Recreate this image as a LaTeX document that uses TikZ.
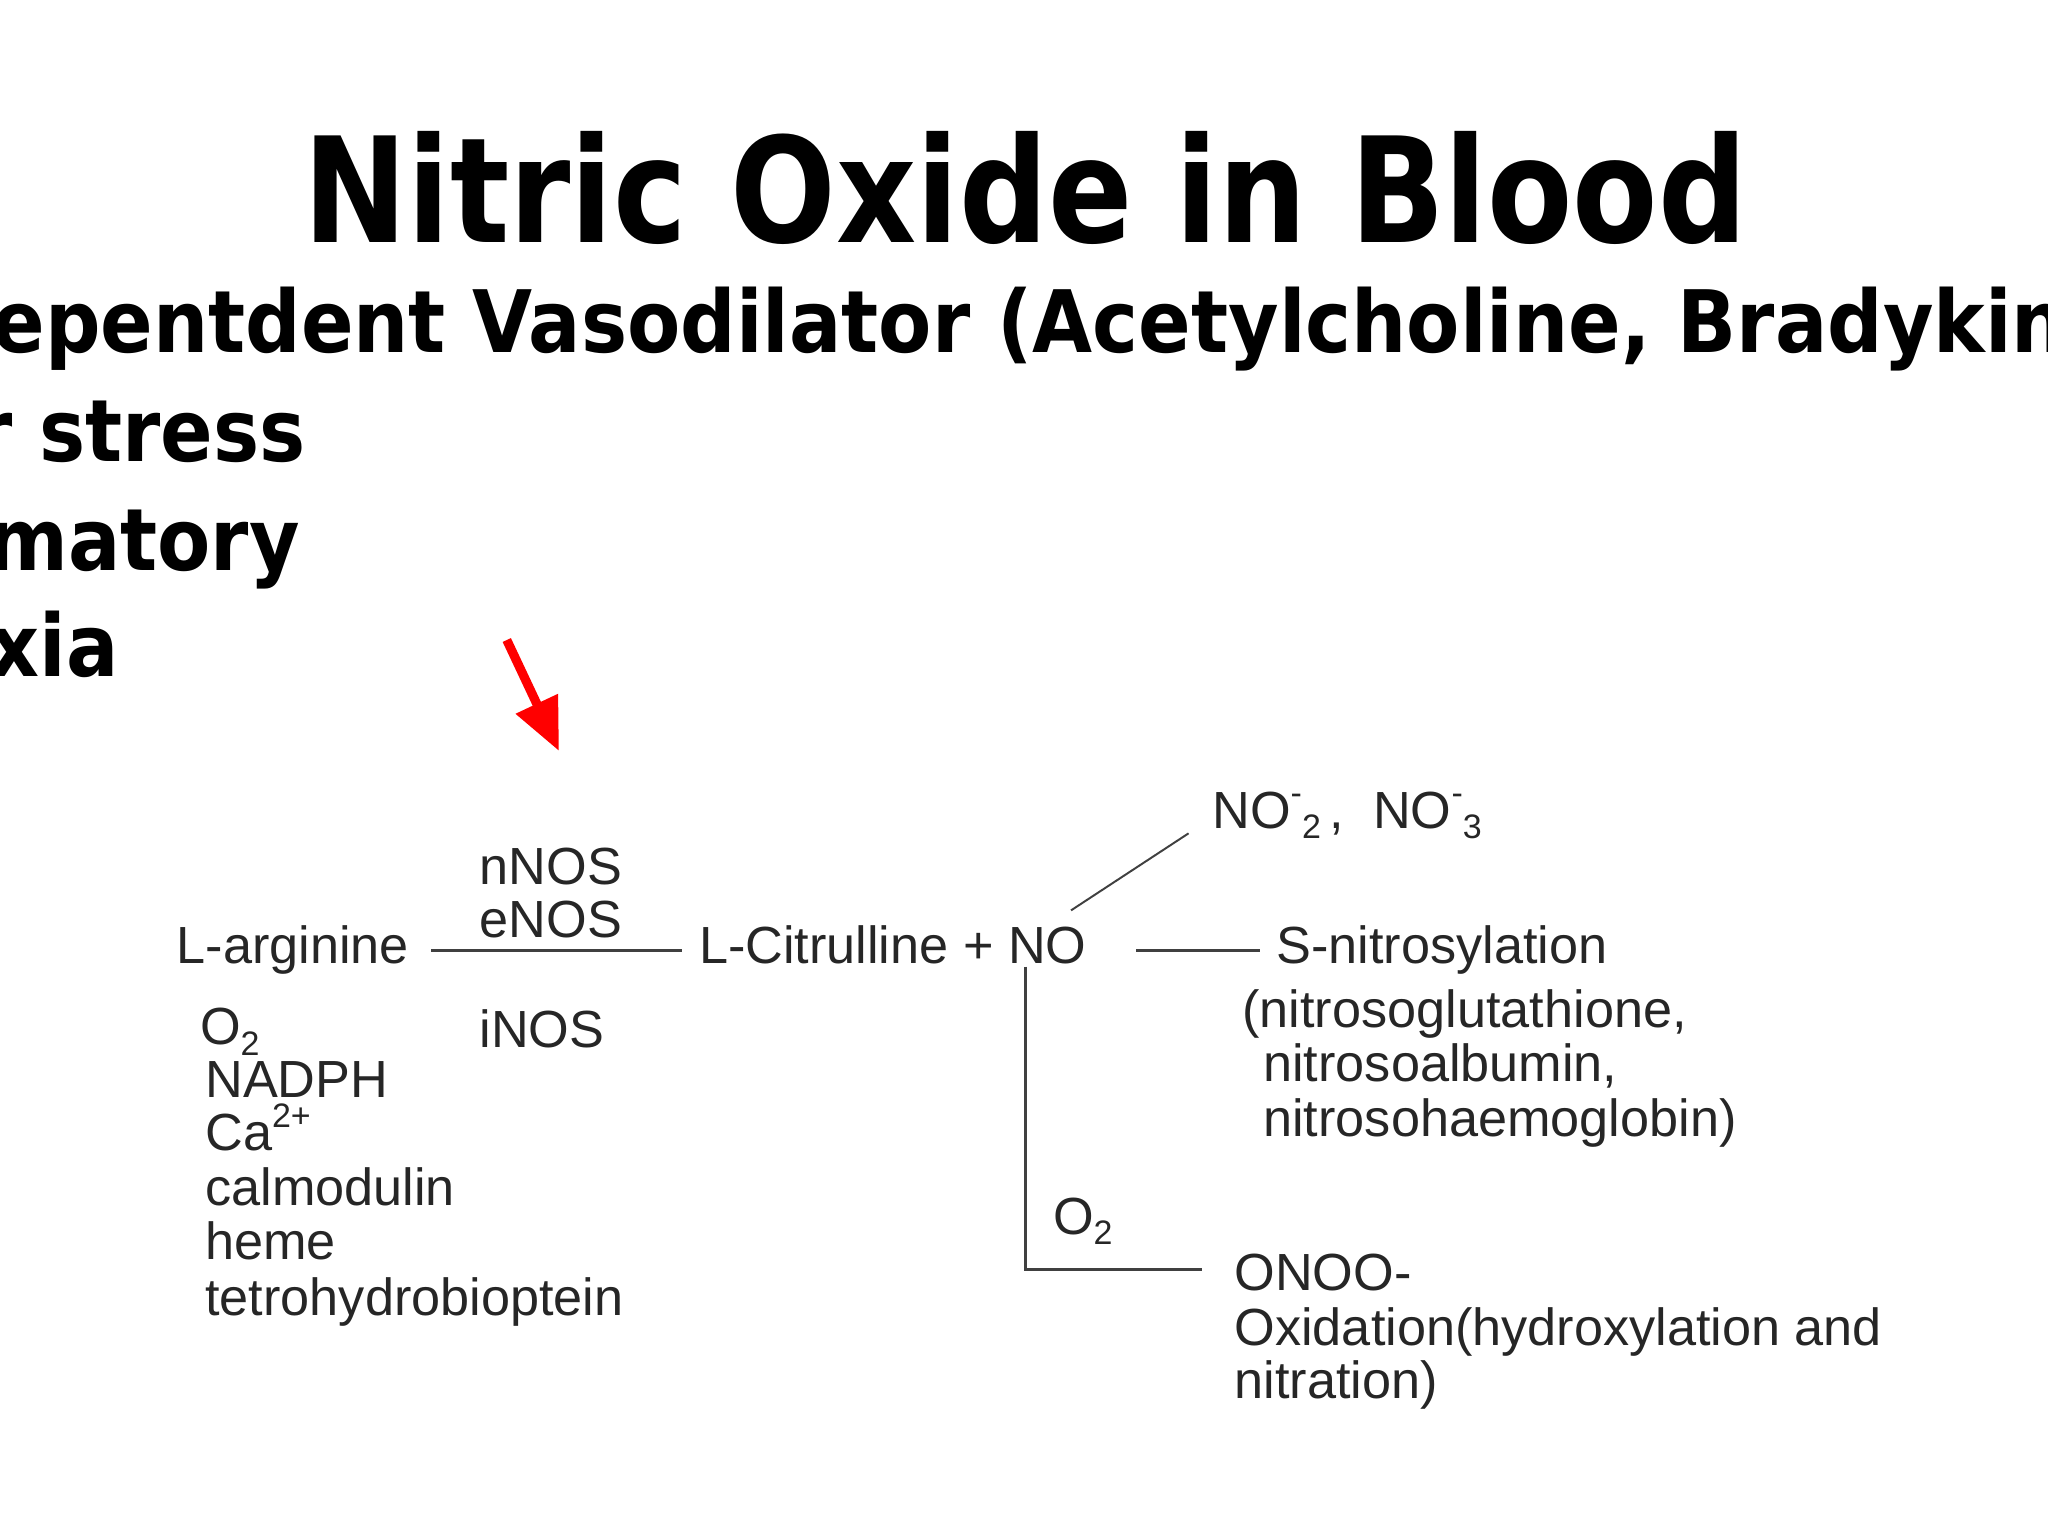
\documentclass[tikz,border=0pt]{standalone}
\usepackage{fontspec}
\usetikzlibrary{arrows.meta}
\setmainfont{Liberation Sans}
\newfontfamily\titlefont[FakeStretch=0.85]{DejaVu Sans}
\newfontfamily\subfont[FakeStretch=0.9]{DejaVu Sans}
\newcommand{\mysub}[1]{\raisebox{-0.2em}{\fontsize{26}{28}\selectfont #1}}
\newcommand{\mysup}[1]{\raisebox{0.45em}{\fontsize{26}{28}\selectfont #1}}
\begin{document}
\begin{tikzpicture}[x=1pt,y=-1pt,
  tl/.style={anchor=base west,inner sep=0pt,font=\subfont\bfseries\fontsize{66}{70}\selectfont},
  dg/.style={anchor=base west,inner sep=0pt,font=\fontsize{40}{42}\selectfont,text=black!85},
  ln/.style={line width=2.2pt,black!75}]
\useasboundingbox (0,0) rectangle (1568,1176);
\clip (0,0) rectangle (1568,1176);
\node[anchor=base,inner sep=0pt,font=\titlefont\bfseries\fontsize{112}{115}\selectfont] (title) at (785,186) {Nitric Oxide in Blood};
\node[tl] (l1) at (-6,270) {epentdent Vasodilator (Acetylcholine, Bradykinin)};
\node[tl] (l2) at (-20,353) {r stress};
\node[tl] (l3) at (-10,437) {matory};
\node[tl] (l4) at (-8,518) {xia};
\draw[red,line width=7pt,-{Triangle[length=40pt,width=34pt]}] (388,490) -- (428,575);
% diagram
\node[dg] (arg) at (135,738) {L-arginine};
\node[dg] (nnos) at (367,677) {nNOS};
\node[dg] (enos) at (367,718) {eNOS};
\node[dg] (inos) at (367,802) {iNOS};
\node[dg] (cit) at (535,738) {L-Citrulline + {}NO};
\node[dg] (sn) at (977,738) {S-nitrosylation};
\node[dg] (p1) at (951,787) {(nitrosoglutathione,};
\node[dg] (p2) at (967,828) {nitrosoalbumin,};
\node[dg] (p3) at (967,870) {nitrosohaemoglobin)};
\node[dg] (no23) at (928,634) {NO\mysup{-}\mysub{2}\,,\ \ NO\mysup{-}\mysub{3}};
\node[dg] (o2b) at (806,945) {O\mysub{2}};
\node[dg] (onoo) at (945,988) {ONOO-};
\node[dg] (ox) at (945,1030) {Oxidation(hydroxylation and};
\node[dg] (ni) at (945,1071) {nitration)};
\node[dg] (o2a) at (153,800) {O\mysub{2}};
\node[dg] (nadph) at (157,840) {NADPH};
\node[dg] (ca) at (157,881) {Ca\mysup{2+}};
\node[dg] (cal) at (157,923) {calmodulin};
\node[dg] (heme) at (157,964) {heme};
\node[dg] (tet) at (157,1007) {tetrohydrobioptein};
\coordinate (a1) at (330,728); \coordinate (a2) at (522,728);
\draw[ln] (a1) -- (a2);
\coordinate (b1) at (870,728); \coordinate (b2) at (965,728);
\draw[ln] (b1) -- (b2);
\coordinate (c1) at (820,697); \coordinate (c2) at (910,638);
\draw[line width=1.5pt,black!75] (c1) -- (c2);
\coordinate (d1) at (785,740); \coordinate (d2) at (785,972); \coordinate (d3) at (920,972);
\draw[ln] (d1) -- (d2) -- (d3);
\end{tikzpicture}
\end{document}
